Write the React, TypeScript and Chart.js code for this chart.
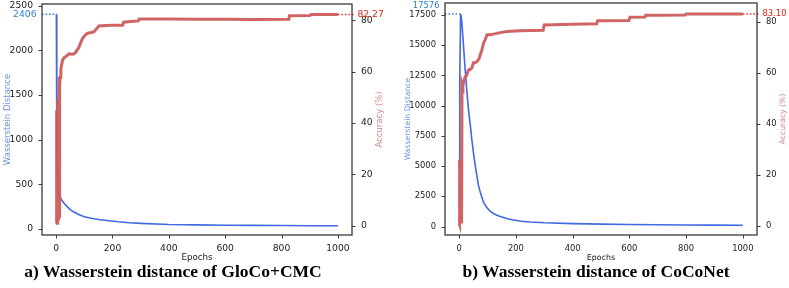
import React, { useEffect, useRef } from "react";
import { Chart, registerables } from "chart.js";

Chart.register(...registerables);

// ---------- shared ticks ----------
const EPOCH_TICKS = [0, 200, 400, 600, 800, 1000];
const ACC_TICKS = [0, 20, 40, 60, 80];

// ---------- a) GloCo+CMC ----------
const glocoWassTicks = [0, 500, 1000, 1500, 2000, 2500];
const glocoWassEpochs = [1, 2, 3, 5, 8, 12, 15, 20, 30, 40, 50, 62, 80, 100, 120, 150, 180, 220, 260, 300, 400, 500, 600, 700, 800, 900, 1000];
const glocoWassValues = [2406, 1500, 900, 500, 400, 365, 355, 320, 280, 245, 215, 190, 160, 135, 120, 103, 93, 78, 67, 60, 48, 43, 40, 38, 36, 34, 33];
const glocoAccEpochs = [0, 1, 2, 3, 4, 5, 6, 7, 8, 9, 10, 11, 12, 13, 15, 17, 20, 23, 29, 35, 46, 55, 64, 72, 81, 88, 94, 105, 112, 125, 135, 145, 152, 175, 200, 236, 240, 265, 292, 295, 400, 500, 600, 700, 826, 828, 900, 905, 1000];
const glocoAccValues = [1, 25, 2, 45, 1, 49, 3, 42, 2, 50, 5, 58, 3, 55, 58, 61, 63, 64.5, 65.5, 66, 67, 66.8, 67, 68, 69.5, 71.5, 73, 74.5, 75, 75.3, 75.6, 77, 77.8, 78, 78.1, 78.1, 79.3, 79.6, 79.8, 80.6, 80.6, 80.5, 80.5, 80.4, 80.5, 81.8, 81.9, 82.27, 82.27];
const glocoPeak = 2406;
const glocoPeakEpoch = 1;
const glocoFinalAcc = 82.27;

// ---------- b) CoCoNet ----------
const coconetWassTicks = [0, 2500, 5000, 7500, 10000, 12500, 15000, 17500];
const coconetWassEpochs = [0, 2, 5, 9, 15, 21, 27, 33, 40, 45, 52, 57, 63, 68, 76, 86, 98, 110, 125, 145, 170, 191, 220, 251, 300, 400, 500, 600, 700, 800, 900, 1000];
const coconetWassValues = [5000, 12000, 17576, 17000, 15000, 13000, 11200, 9600, 8200, 7100, 5800, 5000, 4100, 3400, 2700, 2000, 1550, 1250, 1020, 830, 650, 540, 440, 370, 310, 240, 200, 170, 150, 130, 115, 100];
const coconetAccEpochs = [0, 1, 2, 3, 4, 5, 6, 7, 8, 9, 10, 13, 15, 21, 26, 32, 40, 45, 50, 56, 63, 70, 74, 80, 86, 92, 98, 110, 120, 145, 168, 215, 251, 296, 300, 400, 485, 488, 598, 602, 655, 658, 700, 797, 800, 1000];
const coconetAccValues = [1, 26, 0.5, 24, 1, 25, 2, 22, 1, 2, 56, 55, 56, 58.4, 59, 61, 61.5, 62, 64, 64, 64.5, 65.5, 67, 69, 71.7, 73, 75, 75, 75.2, 75.8, 76.2, 76.5, 76.6, 76.7, 78.8, 79.1, 79.3, 80.4, 80.5, 81.8, 81.9, 82.6, 82.6, 82.7, 83.1, 83.1];
const coconetPeak = 17576;
const coconetPeakEpoch = 5;
const coconetFinalAcc = 83.1;

// ---------- styling ----------
const BLUE = "#4169e1";
const RED = "rgba(205,92,92,0.95)";
const ANN_BLUE = "#2f7fd2";
const ANN_RED = "#e0261c";
const AXIS = "#333333";
const TICK_FONT = "DejaVu Sans";

const pairs = (xs: number[], ys: number[]) => xs.map((x, i) => ({ x, y: ys[i] }));

const annotPlugin = {
  id: "annot",
  afterDraw(chart: any, _args: any, opts: any) {
    const { ctx, chartArea: ca, scales } = chart;
    ctx.save();
    ctx.setLineDash([]);
    ctx.globalAlpha = 1;
    ctx.globalCompositeOperation = "source-over";
    // frame (spines)
    ctx.strokeStyle = "#3a3a3a";
    ctx.lineWidth = 1.3;
    ctx.strokeRect(ca.left, ca.top, ca.right - ca.left, ca.bottom - ca.top);
    // tick marks
    ctx.lineWidth = 1;
    ctx.beginPath();
    for (const v of EPOCH_TICKS) {
      const x = Math.round(scales.x.getPixelForValue(v)) + 0.5;
      ctx.moveTo(x, ca.bottom);
      ctx.lineTo(x, ca.bottom + 3.5);
    }
    for (const v of opts.wassTicks) {
      const y = Math.round(scales.y.getPixelForValue(v)) + 0.5;
      ctx.moveTo(ca.left, y);
      ctx.lineTo(ca.left - 3.5, y);
    }
    for (const v of ACC_TICKS) {
      const y = Math.round(scales.y1.getPixelForValue(v)) + 0.5;
      ctx.moveTo(ca.right, y);
      ctx.lineTo(ca.right + 3.5, y);
    }
    ctx.stroke();
    // peak annotation label
    ctx.font = `${opts.fontSize}px "${TICK_FONT}"`;
    ctx.textBaseline = "middle";
    ctx.fillStyle = ANN_BLUE;
    ctx.textAlign = "right";
    ctx.fillText(opts.peakText, ca.left - 5.5, scales.y.getPixelForValue(opts.peak) + opts.peakDy);
    // final accuracy label
    ctx.fillStyle = ANN_RED;
    ctx.textAlign = "left";
    ctx.fillText(opts.accText, ca.right + 5.5, scales.y1.getPixelForValue(opts.acc));
    // right axis title (reads bottom to top)
    ctx.fillStyle = "rgba(205,92,92,0.75)";
    ctx.font = `${opts.titleSize}px "${TICK_FONT}"`;
    ctx.textAlign = "center";
    ctx.translate(opts.accTitleX, (ca.top + ca.bottom) / 2);
    ctx.rotate(-Math.PI / 2);
    ctx.fillText("Accuracy (%)", 0, 0);
    ctx.restore();
  },
};

type Panel = {
  wassEpochs: number[];
  wassValues: number[];
  accEpochs: number[];
  accValues: number[];
  wassTicks: number[];
  peak: number;
  peakEpoch: number;
  finalAcc: number;
  wassMin: number;
  wassMax: number;
  accMin: number;
  accMax: number;
  leftW: number;
  rightW: number;
  topPad: number;
  fontSize: number;
  peakDy: number;
  wTitlePad: number;
  accTitleX: number;
  width: number;
  height: number;
};

function makeConfig(p: Panel): any {
  const fixedTicks = (vals: number[]) => (s: any) => {
    s.ticks = vals.map((v) => ({ value: v }));
  };
  const grid = { display: false, drawOnChartArea: false, drawTicks: true, tickLength: 3.5 };
  const tickFont = { family: TICK_FONT, size: p.fontSize };
  return {
    type: "line",
    data: {
      datasets: [
        {
          data: pairs(p.accEpochs, p.accValues),
          yAxisID: "y1",
          borderColor: RED,
          borderWidth: 3,
          pointRadius: 0,
          tension: 0,
          order: 1,
        },
        {
          data: pairs(p.wassEpochs, p.wassValues),
          yAxisID: "y",
          borderColor: BLUE,
          borderWidth: 1.6,
          pointRadius: 0,
          tension: 0,
          order: 2,
        },
        {
          data: [
            { x: -50, y: p.peak },
            { x: p.peakEpoch, y: p.peak },
          ],
          yAxisID: "y",
          borderColor: ANN_BLUE,
          borderWidth: 1.5,
          borderDash: [1.5, 2],
          pointRadius: 0,
          order: 3,
        },
        {
          data: [
            { x: 1000, y: p.finalAcc },
            { x: 1060, y: p.finalAcc },
          ],
          yAxisID: "y1",
          borderColor: ANN_RED,
          borderWidth: 1.5,
          borderDash: [1.5, 2],
          pointRadius: 0,
          clip: false,
          order: 0,
        },
      ],
    },
    options: {
      animation: false,
      responsive: false,
      devicePixelRatio: 1,
      layout: { padding: { top: p.topPad, left: 0, right: 0, bottom: 0 } },
      plugins: {
        legend: { display: false },
        tooltip: { enabled: false },
        annot: {
          peak: p.peak,
          peakText: String(p.peak),
          peakDy: p.peakDy,
          acc: p.finalAcc,
          accText: p.finalAcc.toFixed(2),
          fontSize: p.fontSize,
          titleSize: p.fontSize - 0.7,
          accTitleX: p.accTitleX,
          wassTicks: p.wassTicks,
        },
      },
      scales: {
        x: {
          type: "linear",
          position: "bottom",
          min: -50,
          max: 1050,
          grid,
          border: { display: false },
          ticks: { color: "#222", font: tickFont, padding: 5, maxRotation: 0, autoSkip: false, callback: (v: any) => String(v) },
          afterBuildTicks: fixedTicks(EPOCH_TICKS),
          title: { display: true, text: "Epochs", color: "#222", font: { family: TICK_FONT, size: p.fontSize - 0.5 }, padding: { top: 0, bottom: 1 } },
          afterFit: (s: any) => {
            s.height = p.height - 235;
            s.paddingLeft = 0;
            s.paddingRight = 0;
          },
        },
        y: {
          type: "linear",
          position: "left",
          min: p.wassMin,
          max: p.wassMax,
          grid,
          border: { display: false },
          ticks: { color: "#222", font: tickFont, padding: 5.5, autoSkip: false, callback: (v: any) => String(v) },
          afterBuildTicks: fixedTicks(p.wassTicks),
          title: {
            display: true,
            text: "Wasserstein Distance",
            color: "rgba(65,105,225,0.75)",
            font: { family: TICK_FONT, size: p.fontSize - 0.7 },
            padding: { top: p.wTitlePad, bottom: 0 },
          },
          afterFit: (s: any) => {
            s.width = p.leftW;
            s.paddingTop = 0;
            s.paddingBottom = 0;
          },
        },
        y1: {
          type: "linear",
          position: "right",
          min: p.accMin,
          max: p.accMax,
          grid,
          border: { display: false },
          ticks: { color: "#222", font: tickFont, padding: 5.5, autoSkip: false, callback: (v: any) => String(v) },
          afterBuildTicks: fixedTicks(ACC_TICKS),
          afterFit: (s: any) => {
            s.width = p.rightW;
            s.paddingTop = 0;
            s.paddingBottom = 0;
          },
        },
      },
    },
    plugins: [annotPlugin],
  };
}

function ChartPanel({ panel, left }: { panel: Panel; left: number }) {
  const ref = useRef<HTMLCanvasElement | null>(null);
  useEffect(() => {
    if (!ref.current) return;
    const chart = new Chart(ref.current, makeConfig(panel));
    return () => chart.destroy();
  }, []);
  return (
    <div style={{ position: "absolute", left, top: 0, width: panel.width, height: panel.height }}>
      <canvas ref={ref} width={panel.width} height={panel.height} style={{ display: "block" }} />
    </div>
  );
}

const panelA: Panel = {
  wassEpochs: glocoWassEpochs,
  wassValues: glocoWassValues,
  accEpochs: glocoAccEpochs,
  accValues: glocoAccValues,
  wassTicks: glocoWassTicks,
  peak: glocoPeak,
  peakEpoch: glocoPeakEpoch,
  finalAcc: glocoFinalAcc,
  wassMin: -70,
  wassMax: 2520,
  accMin: -3.6,
  accMax: 86.4,
  leftW: 42,
  rightW: 43,
  topPad: 4,
  fontSize: 9.2,
  peakDy: 0,
  wTitlePad: 3,
  accTitleX: 380,
  width: 395,
  height: 264,
};

const panelB: Panel = {
  wassEpochs: coconetWassEpochs,
  wassValues: coconetWassValues,
  accEpochs: coconetAccEpochs,
  accValues: coconetAccValues,
  wassTicks: coconetWassTicks,
  peak: coconetPeak,
  peakEpoch: coconetPeakEpoch,
  finalAcc: coconetFinalAcc,
  wassMin: -700,
  wassMax: 18480,
  accMin: -3.5,
  accMax: 87.4,
  leftW: 50,
  rightW: 32,
  topPad: 3,
  fontSize: 8.4,
  peakDy: -8,
  wTitlePad: 8,
  accTitleX: 388,
  width: 394,
  height: 264,
};

const titleStyle: React.CSSProperties = {
  position: "absolute",
  top: 261,
  transform: "translateX(-50%)",
  whiteSpace: "nowrap",
  fontFamily: '"Liberation Serif", "Times New Roman", serif',
  fontWeight: "bold",
  fontSize: 17.5,
  lineHeight: "20px",
  color: "#000",
};

export default function App() {
  return (
    <div style={{ position: "absolute", left: 0, top: 0, width: 789, height: 288, background: "#fff", overflow: "hidden" }}>
      <ChartPanel panel={panelA} left={0} />
      <ChartPanel panel={panelB} left={395} />
      <div style={{ ...titleStyle, left: 173 }}>a) Wasserstein distance of GloCo+CMC</div>
      <div style={{ ...titleStyle, left: 596 }}>b) Wasserstein distance of CoCoNet</div>
    </div>
  );
}
